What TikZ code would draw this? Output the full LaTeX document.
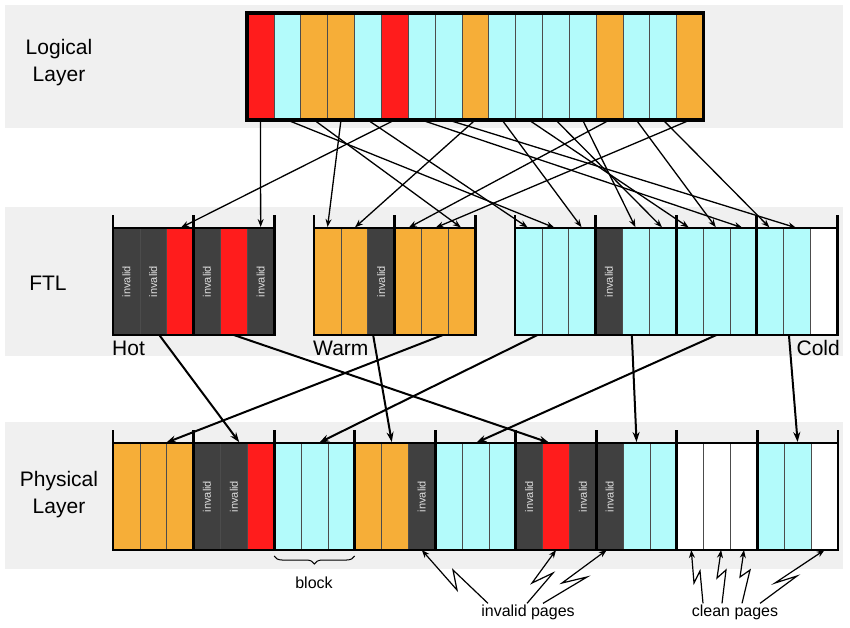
\documentclass[tikz,border=0pt]{standalone}
\usepackage{fontspec}
\setmainfont{Liberation Sans}
\usetikzlibrary{arrows.meta,decorations.pathreplacing}
\definecolor{cell red}{HTML}{FF1C1C}
\definecolor{cell cyan}{HTML}{B3FBFB}
\definecolor{cell orange}{HTML}{F6AE38}
\definecolor{cell dark}{HTML}{404040}
\colorlet{cell edge}{black!70}
\colorlet{band}{black!6}
\tikzset{cell/.style={draw=cell edge, line width=0.6pt, inner sep=0pt, outer sep=0pt,
        minimum width=26.85pt, minimum height=107pt},
    cell R/.style={cell, fill=cell red},
    cell C/.style={cell, fill=cell cyan},
    cell O/.style={cell, fill=cell orange},
    cell W/.style={cell, fill=white},
    cell D/.style={cell, fill=cell dark, label={[invalid text]center:invalid}},
    invalid text/.style={rotate=90, text=black!12, font=\fontsize{11}{12}\selectfont},
    block/.style={draw=black, line width=2.8pt},
    layer/.style={align=center, font=\fontsize{21}{27}\selectfont},
    group/.style={font=\fontsize{21}{25}\selectfont, inner sep=0pt},
    note/.style={font=\fontsize{16}{19}\selectfont, inner sep=1pt},
    map/.style={-{Stealth[length=8pt,width=6pt]}, line width=1.3pt, shorten >=1pt},
    move/.style={-{Stealth[length=10pt,width=7pt]}, line width=2pt, shorten >=1pt},
    bolt/.style={-{Stealth[length=8pt,width=6pt]}, line width=1.2pt}}
% one row of pages: prefix, left edge, centre line, colours
\newcommand{\cellrow}[4]{%
    \foreach \c [count=\i from 0] in {#4}
        \node[cell \c] (#1\i) at ({#2+(\i+0.5)*26.85}, #3) {};}

\begin{document}
\begin{tikzpicture}[x=1pt, y=-1pt]
\useasboundingbox (0,0) rectangle (850,627);
% layers
\fill[band] (5,5) rectangle (843,128);
\fill[band] (5,207) rectangle (843,356);
\fill[band] (5,422) rectangle (843,569);
\node[layer] (logical) at (59,63) {Logical\\Layer};
\node[layer] (ftl) at (48,283) {FTL};
\node[layer] (physical) at (59,495) {Physical\\Layer};
% pages
\cellrow{L}{247}{66.5}{R,C,O,O,C,R,C,C,O,C,C,C,C,O,C,C,O}
\cellrow{H}{113}{281.5}{D,D,R,D,R,D}
\cellrow{W}{314}{281.5}{O,O,D,O,O,O}
\cellrow{C}{515}{281.5}{C,C,C,D,C,C,C,C,C,C,C,W}
\cellrow{P}{113}{496.5}{O,O,O,D,D,R,C,C,C,O,O,D,C,C,C,D,R,D,D,C,C,W,W,W,C,C,W}
\draw[line width=3.5pt] (L0.north west) rectangle (L16.south east);
% blocks
\foreach \p/\n in {H/2,W/2,C/4,P/9}
    \foreach \b in {1,...,\n} {
        \pgfmathtruncatemacro\f{3*\b-3}
        \pgfmathtruncatemacro\l{3*\b-1}
        \draw[block] (\p\f.north west) rectangle (\p\l.south east);
        \draw[block] (\p\f.north west) -- ++(0,-13);
        \draw[block] (\p\l.north east) -- ++(0,-13);
    }
\node[group, anchor=base west] (hot) at (112,355) {Hot};
\node[group, anchor=base west] (warm) at (313,355) {Warm};
\node[group, anchor=base east] (cold) at (840,355) {Cold};
% logical to FTL
\foreach \s/\t in {L0/H5,L5/H2,L2/W5,L3/W0,L8/W1,L13/W3,L16/W4,L1/C1,L4/C0,
        L6/C8,L7/C10,L9/C2,L10/C6,L11/C5,L12/C4,L14/C7,L15/C9}
    \draw[map] (\s.south) -- (\t.north);
% FTL to physical
\draw[move] ([xshift=6pt]H1.south) -- ([xshift=6pt]P4.north);
\draw[move] (H4.south) -- ([xshift=-6pt]P16.north);
\draw[move] ([xshift=-8pt]W2.south) -- ([xshift=-3pt]P10.north);
\draw[move] ([xshift=8pt]W4.south) -- ([xshift=12pt]P1.north);
\draw[move] ([xshift=9pt]C0.south) -- ([xshift=4pt]P7.north);
\draw[move] ([xshift=-4pt]C4.south) -- (P19.north);
\draw[move] (C7.south) -- (P13.north);
\draw[move] ([xshift=-8pt]C10.south) -- (P25.north);
% notes
\draw[decorate, decoration={brace, mirror, amplitude=8pt}, line width=1pt]
    ([yshift=-6pt]P6.south west) -- ([yshift=-6pt]P8.south east);
\node[note] (block) at (314,583) {block};
\node[note] (invalid) at (528,612) {invalid pages};
\node[note] (clean) at (735,612) {clean pages};
\draw[bolt] ([xshift=-40pt]invalid.north) -- (453,570) -- (457,590) -- (P11.south);
\draw[bolt] ([xshift=-1pt]invalid.north) -- (553,573) -- (532,583) -- (P16.south);
\draw[bolt] ([xshift=15pt]invalid.north) -- (587,577) -- (562,583) -- ([xshift=-3pt]P18.south);
\draw[bolt] ([xshift=-32pt]clean.north) -- (700,571) -- (694,583) -- ([xshift=1pt]P21.south);
\draw[bolt] ([xshift=-13pt]clean.north) -- (726,570) -- (717,578) -- ([xshift=4pt]P22.south);
\draw[bolt] ([xshift=7pt]clean.north) -- (750,570) -- (740,577) -- (P23.south);
\draw[bolt] ([xshift=25pt]clean.north) -- (797,576) -- (775,583) -- (P26.south);
\end{tikzpicture}
\end{document}
